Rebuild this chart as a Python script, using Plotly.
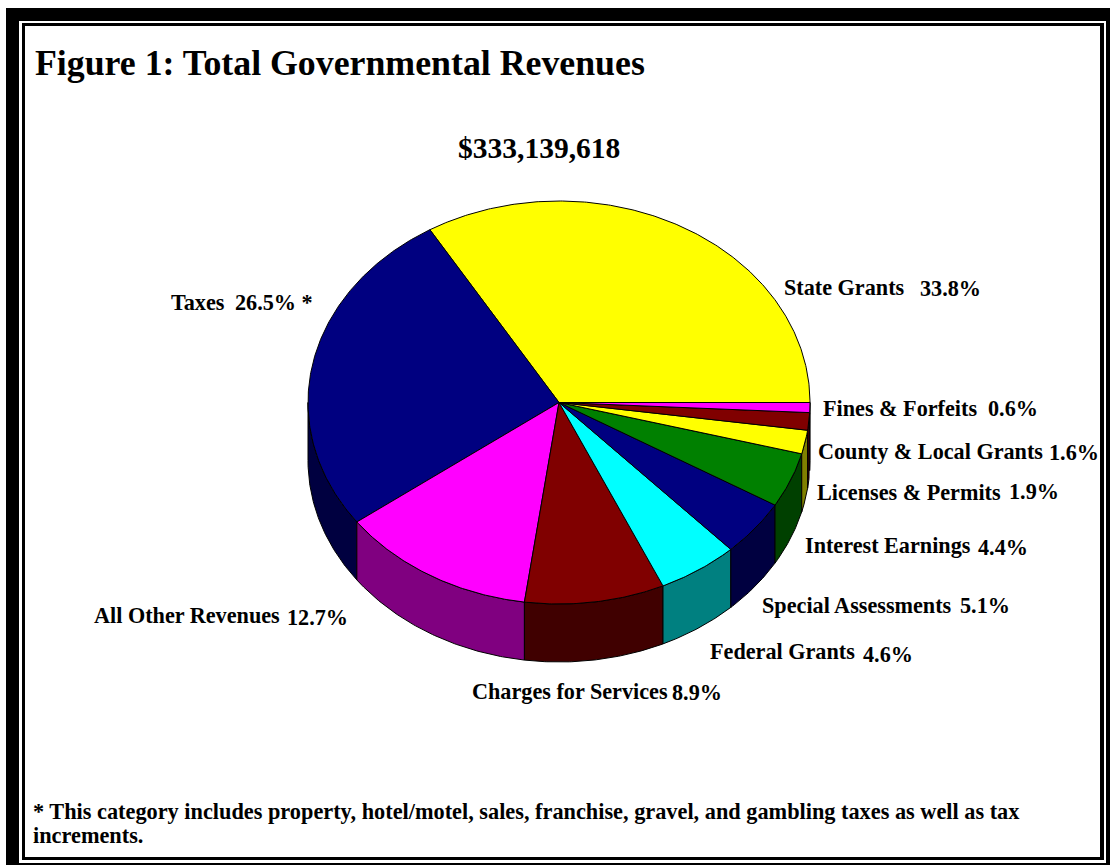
import numpy as np
import plotly.graph_objects as go

# --- data, counter-clockwise from 3 o'clock ---
categories = ["State Grants", "Taxes", "All Other Revenues", "Charges for Services", "Federal Grants",
              "Special Assessments", "Interest Earnings", "Licenses & Permits", "County & Local Grants",
              "Fines & Forfeits"]
shares = [33.6, 26.5, 12.7, 9.0, 5.2, 4.5, 4.4, 1.9, 1.4, 0.8]
share_labels = ["33.8%", "26.5% *", "12.7%", "8.9%", "4.6%", "5.1%", "4.4%", "1.9%", "1.6%", "0.6%"]
top_colors = ["#FFFF00", "#000080", "#FF00FF", "#800000", "#00FFFF",
              "#000080", "#008000", "#FFFF00", "#800000", "#FF00FF"]
side_colors = ["#808000", "#000040", "#800080", "#400000", "#008080",
               "#000040", "#004000", "#808000", "#400000", "#800080"]

title_text = "Figure 1: Total Governmental Revenues"
total_text = "$333,139,618"
note_lines = ["* This category includes property, hotel/motel, sales, franchise, gravel, and gambling taxes as well as tax",
              "increments."]

# label placement (left edge, middle), name then value
name_pos = [(784, 287), (171, 302), (94, 615), (472, 691), (710, 651),
            (762, 605), (805, 545), (817, 492), (818, 451), (823, 408)]
value_pos = [(920, 288), (235, 302), (287, 617), (672, 692), (863, 654),
             (960, 605), (978, 547), (1009, 491), (1049, 452), (988, 408)]

# pie geometry in page pixels
CX, CY, RX, RY, DEPTH = 559, 402.5, 251, 201.5, 58
FONT = "Liberation Serif"


def arc(a0, a1, drop=0):
    t = np.radians(np.linspace(a0, a1, max(int(abs(a1 - a0) * 2), 2)))
    return CX + RX * np.cos(t), CY - RY * np.sin(t) + drop


fig = go.Figure()
edges = np.concatenate([[0], np.cumsum(shares)]) / sum(shares) * 360

# side wall first, only the front half of the pie shows it
for i, col in enumerate(side_colors):
    a0, a1 = max(edges[i], 180), edges[i + 1]
    if a1 <= a0:
        continue
    x0, y0 = arc(a0, a1)
    x1, y1 = arc(a1, a0, DEPTH)
    fig.add_trace(go.Scatter(x=np.r_[x0, x1, x0[0]], y=np.r_[y0, y1, y0[0]], mode="lines", fill="toself",
                             fillcolor=col, line=dict(color="black", width=1), hoverinfo="skip"))

# top face
for i, col in enumerate(top_colors):
    x, y = arc(edges[i], edges[i + 1])
    fig.add_trace(go.Scatter(x=np.r_[CX, x, CX], y=np.r_[CY, y, CY], mode="lines", fill="toself",
                             fillcolor=col, line=dict(color="black", width=1), hoverinfo="skip"))


def add_text(x, y, text, size):
    # annotations sit 1px right of the anchor
    fig.add_annotation(x=x - 1, y=y, text=f"<b>{text}</b>", showarrow=False, xanchor="left", yanchor="middle",
                       borderpad=0, font=dict(family=FONT, size=size, color="black"))


add_text(35, 63, title_text, 35.8)
add_text(458, 148, total_text, 29.5)
for name, val, np_, vp in zip(categories, share_labels, name_pos, value_pos):
    add_text(np_[0], np_[1], name, 22.2)
    add_text(vp[0], vp[1], val, 22.2)
add_text(33, 811, note_lines[0], 22.3)
add_text(33, 835, note_lines[1], 22.3)

# double border
for x0, y0, x1, y1 in [(6, 8, 19, 865), (6, 8, 1110, 21), (1106, 8, 1110, 865), (6, 863, 1110, 865),
                       (22, 23, 25, 860), (22, 23, 1104, 26), (1100, 23, 1104, 860), (22, 857, 1104, 860)]:
    fig.add_shape(type="rect", x0=x0, y0=y0, x1=x1, y1=y1, fillcolor="black", line_width=0, layer="below")

fig.update_layout(
    width=1110, height=865, margin=dict(l=0, r=0, t=0, b=0), showlegend=False,
    paper_bgcolor="white", plot_bgcolor="white",
    xaxis=dict(range=[0, 1110], visible=False, fixedrange=True),
    yaxis=dict(range=[865, 0], visible=False, fixedrange=True),
)
fig.write_html("out.html", config=dict(displayModeBar=False),
               post_script="document.body.style.margin='0';document.body.style.overflow='hidden';")
